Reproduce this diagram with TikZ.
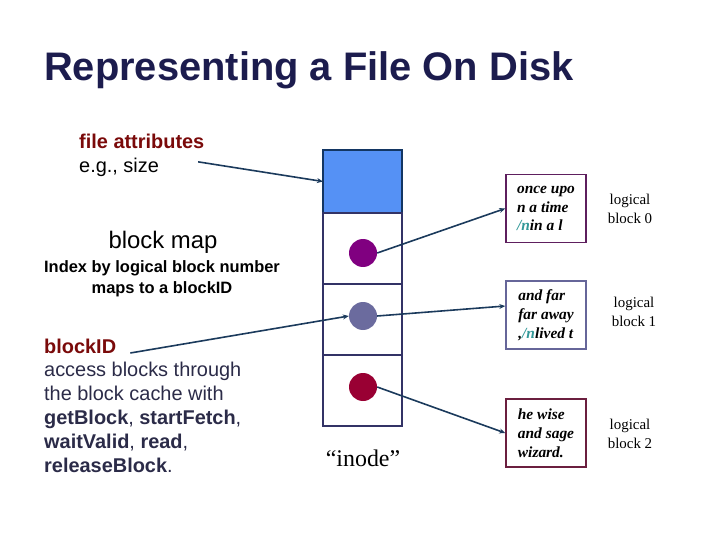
\documentclass[tikz,border=0pt]{standalone}
\usepackage{fontspec}
\setmainfont{Liberation Sans}
\newfontfamily\timesfont{Liberation Serif}
\usetikzlibrary{arrows.meta,positioning}
\definecolor{titlenavy}{HTML}{1C1C4E}
\definecolor{attrred}{HTML}{7A0A0A}
\definecolor{bodynavy}{HTML}{2B2B48}
\definecolor{linenavy}{HTML}{1B3A5C}
\definecolor{cellline}{HTML}{333366}
\definecolor{attrfill}{HTML}{5591F5}
\definecolor{attrline}{HTML}{133663}
\definecolor{dotpurple}{HTML}{800080}
\definecolor{dotgray}{HTML}{6B6B9E}
\definecolor{dotred}{HTML}{990033}
\definecolor{blkpurple}{HTML}{5E1F5E}
\definecolor{blkgray}{HTML}{666699}
\definecolor{blkred}{HTML}{6B1F3F}
\definecolor{nlteal}{HTML}{339999}
\newcommand{\slashn}{\textcolor{nlteal}{/n}}
\tikzset{
  titletext/.style={anchor=base west, inner sep=0pt, text=titlenavy, font=\bfseries\fontsize{40}{46}\selectfont},
  note/.style={inner sep=0pt, font=\fontsize{20}{24}\selectfont},
  attrbox/.style={draw=attrline, line width=2.5bp, fill=attrfill, minimum width=79bp, minimum height=63bp, inner sep=0pt, outer sep=0pt},
  cell/.style={draw=cellline, line width=1.2bp, minimum width=79bp, minimum height=71bp, inner sep=0pt, outer sep=0pt},
  dot/.style={circle, minimum size=28bp, inner sep=0pt},
  datablock/.style={draw, line width=1.5bp, minimum width=80bp, minimum height=68bp, align=left, inner sep=2pt, font=\timesfont\bfseries\itshape\fontsize{15.5}{19}\selectfont},
  blocklabel/.style={align=center, inner sep=0pt, font=\timesfont\fontsize{15}{19}\selectfont},
  arrow/.style={-{Stealth[length=6bp,width=5bp]}, line width=1.6bp, draw=linenavy}
}

\begin{document}
\begin{tikzpicture}[x=1bp,y=-1bp]
  \useasboundingbox (0,0) rectangle (720,540);

  \node[titletext] (title) at (44,81) {Representing a File On Disk};

  % left notes
  \node[note, anchor=base west, text=attrred, font=\bfseries\fontsize{20}{24}\selectfont] (fileattr) at (79,149) {file attributes};
  \node[note, anchor=base west] (size) at (79,173) {e.g., size};
  \node[note, anchor=base, font=\fontsize{24}{28}\selectfont] (blockmap) at (163,249) {block map};
  \node[note, anchor=base, font=\bfseries\fontsize{16.5}{20}\selectfont] (index) at (162,273) {Index by logical block number};
  \node[note, anchor=base, font=\bfseries\fontsize{16.5}{20}\selectfont] (mapsto) at (162,293) {maps to a blockID};
  \node[note, anchor=base west, text=attrred, font=\bfseries\fontsize{20}{24}\selectfont] (blockid) at (44,353) {blockID};
  \node[note, anchor=base west, align=left, text=bodynavy] (access) at (44,472)
    {access blocks through\\the block cache with\\\textbf{getBlock}, \textbf{startFetch},\\\textbf{waitValid}, \textbf{read},\\\textbf{releaseBlock}.};

  % inode
  \node[attrbox] (attr) at (362.5,181.5) {};
  \node[cell, below=0pt of attr] (m0) {};
  \node[cell, below=0pt of m0] (m1) {};
  \node[cell, below=0pt of m1] (m2) {};
  \node[dot, fill=dotpurple] (d0) at (363,253) {};
  \node[dot, fill=dotgray] (d1) at (363,316) {};
  \node[dot, fill=dotred] (d2) at (363,387) {};
  \node[anchor=base, inner sep=0pt, font=\timesfont\fontsize{24}{28}\selectfont] (inode) at (363,466) {“inode”};

  % data blocks
  \node[datablock, draw=blkpurple] (b0) at (546,208.5) {once upo\\n a time\\\slashn in a l};
  \node[datablock, draw=blkgray] (b1) at (546,315) {and far\\far away\\,\slashn lived t};
  \node[datablock, draw=blkred] (b2) at (546,433) {he wise\\and sage\\wizard.};
  \node[blocklabel] (lb0) at (630,209) {logical\\block 0};
  \node[blocklabel] (lb1) at (634,312) {logical\\block 1};
  \node[blocklabel] (lb2) at (630,434) {logical\\block 2};

  \draw[arrow] ([xshift=39bp,yshift=6bp]size.east) -- (attr.west);
  \draw[arrow] ([xshift=14bp]blockid.base east) -- (d1.west);
  \draw[arrow] (d0.east) -- (b0.west);
  \draw[arrow] (d1.east) -- ([yshift=9bp]b1.west);
  \draw[arrow] (d2.east) -- (b2.west);
\end{tikzpicture}
\end{document}
